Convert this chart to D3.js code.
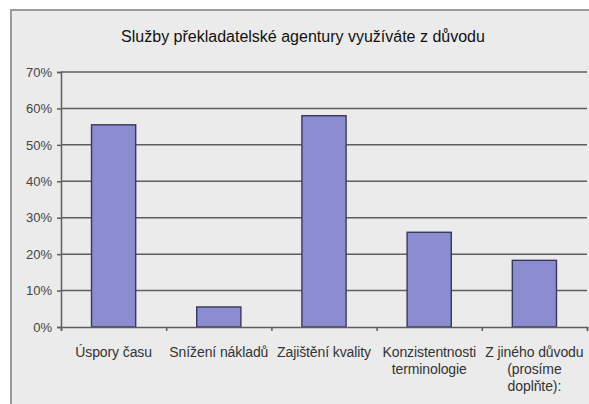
<!DOCTYPE html>
<html>
<head>
<meta charset="utf-8">
<script src="https://cdn.jsdelivr.net/npm/d3@7"></script>
<style>
  body { margin: 0; background: #fff; overflow: hidden; }
  svg { display: block; }
  text { font-family: "Liberation Sans", Arial, sans-serif; }
</style>
</head>
<body>
<div id="chart-area"></div>
<script>
var categories = [
    ["Úspory času"],
    ["Snížení nákladů"],
    ["Zajištění kvality"],
    ["Konzistentnosti", "terminologie"],
    ["Z jiného důvodu", "(prosíme", "doplňte):"]
];
var values = [0.555, 0.055, 0.58, 0.26, 0.183];
var yTicks = [0, 0.1, 0.2, 0.3, 0.4, 0.5, 0.6, 0.7];
var title = "Služby překladatelské agentury využíváte z důvodu";

var width = 589;
var height = 404;
var margin = { top: 72, right: 2, bottom: 77, left: 61 };
var innerWidth = width - margin.left - margin.right;
var innerHeight = height - margin.top - margin.bottom;

var svg = d3.select("#chart-area")
    .append("svg")
    .attr("width", width)
    .attr("height", height);

// chart background, frame runs off the right and bottom edges
svg.append("rect")
    .attr("x", 11)
    .attr("y", 10)
    .attr("width", width - 11)
    .attr("height", height - 10)
    .attr("fill", "#ebebeb");
svg.append("path")
    .attr("d", `M11,${height}V10H${width}`)
    .attr("fill", "none")
    .attr("stroke", "#9a9a9a")
    .attr("stroke-width", 2);

svg.append("text")
    .attr("x", 303)
    .attr("y", 42)
    .attr("text-anchor", "middle")
    .attr("font-size", "16px")
    .attr("fill", "#111")
    .text(title);

var g = svg.append("g")
    .attr("transform", `translate(${margin.left}, ${margin.top})`);

var x = d3.scaleBand()
    .domain(d3.range(categories.length))
    .range([0, innerWidth])
    .paddingInner(0.58)
    .paddingOuter(0.29);

var y = d3.scaleLinear()
    .domain([0, 0.7])
    .range([innerHeight, 0]);

// gridlines
g.selectAll(".grid")
    .data(yTicks.slice(1))
    .enter()
    .append("line")
    .attr("x1", 0)
    .attr("x2", innerWidth)
    .attr("y1", d => y(d))
    .attr("y2", d => y(d))
    .attr("stroke", "#5e5e5e")
    .attr("stroke-width", 1.5);

g.selectAll(".bar")
    .data(values)
    .enter()
    .append("rect")
    .attr("x", (d, i) => x(i))
    .attr("y", d => y(d))
    .attr("width", x.bandwidth())
    .attr("height", d => innerHeight - y(d))
    .attr("fill", "#8c8cd0")
    .attr("stroke", "#38385e")
    .attr("stroke-width", 1.4);

var yAxis = d3.axisLeft(y)
    .tickValues(yTicks)
    .tickSize(4)
    .tickPadding(5)
    .tickFormat(d3.format(".0%"));
var yg = g.append("g").call(yAxis);
yg.select(".domain").attr("stroke", "#5e5e5e").attr("stroke-width", 1.5);
yg.selectAll(".tick line").attr("stroke", "#5e5e5e").attr("stroke-width", 1.5);
yg.selectAll("text")
    .attr("font-size", "13px")
    .attr("fill", "#444")
    .attr("font-family", "Liberation Sans, Arial, sans-serif");

// x axis with ticks between categories
var xEdge = d3.scaleLinear().domain([0, categories.length]).range([0, innerWidth]);
var xAxis = d3.axisBottom(xEdge)
    .ticks(categories.length)
    .tickSize(4)
    .tickFormat("");
var xg = g.append("g")
    .attr("transform", `translate(0, ${innerHeight})`)
    .call(xAxis);
xg.select(".domain").attr("stroke", "#5e5e5e").attr("stroke-width", 1.5);
xg.selectAll(".tick line").attr("stroke", "#5e5e5e").attr("stroke-width", 1.5);

var labels = g.selectAll(".cat")
    .data(categories)
    .enter()
    .append("text")
    .attr("text-anchor", "middle")
    .attr("font-size", "14px")
    .attr("fill", "#333")
    .attr("letter-spacing", "-0.1px")
    .attr("transform", (d, i) => `translate(${x(i) + x.bandwidth() / 2}, ${innerHeight + 30})`);

labels.selectAll("tspan")
    .data(d => d)
    .enter()
    .append("tspan")
    .attr("x", 0)
    .attr("dy", (d, i) => i === 0 ? 0 : 17)
    .text(d => d);
</script>
</body>
</html>
